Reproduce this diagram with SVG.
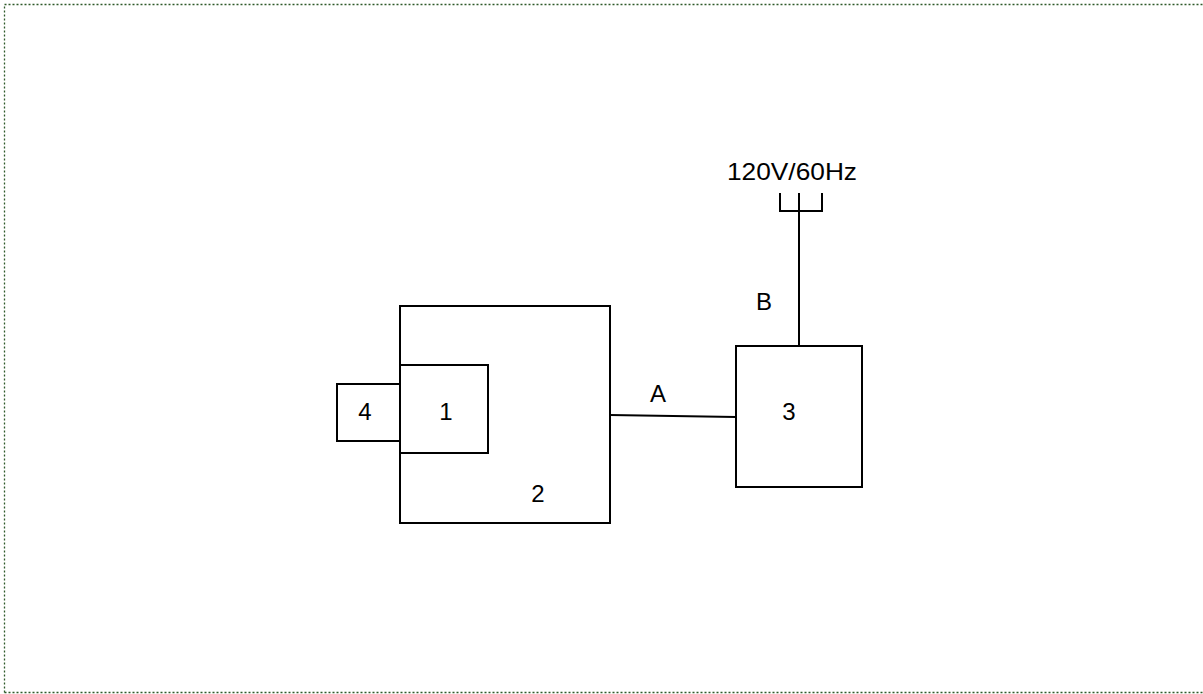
<svg xmlns="http://www.w3.org/2000/svg" width="1203" height="694" viewBox="0 0 1203 694">
<style>
.frame{fill:none;stroke:#2f5a2a;stroke-width:1.3;stroke-dasharray:2 2}
.box{fill:#fff;stroke:#000;stroke-width:2}
.ln{fill:none;stroke:#000;stroke-width:2}
.t{font-family:"Liberation Sans",Arial,sans-serif;font-size:24px;fill:#000}
</style>
<rect width="1203" height="694" fill="#fff"/>
<path class="frame" d="M4.5,692.5 V4.5 H1203 M4.5,692.5 H1203"/>
<g id="connectors">
<path class="ln" d="M610,415 L736,417"/>
<path class="ln" d="M799,193 V346"/>
<path class="ln" d="M780,193 V211 H822 V193"/>
</g>
<g id="node2"><rect class="box" x="400" y="306" width="210" height="217"/><text class="t" x="538" y="502" text-anchor="middle">2</text></g>
<g id="node1"><rect class="box" x="400" y="365" width="88" height="88"/><text class="t" x="446" y="420" text-anchor="middle">1</text></g>
<g id="node4"><rect class="box" x="337" y="384" width="63" height="57"/><text class="t" x="365" y="420" text-anchor="middle">4</text></g>
<g id="node3"><rect class="box" x="736" y="346" width="126" height="141"/><text class="t" x="789" y="420" text-anchor="middle">3</text></g>
<g id="labels">
<text class="t" x="658" y="402" text-anchor="middle">A</text>
<text class="t" x="764" y="310" text-anchor="middle">B</text>
<text class="t" x="727" y="180" textLength="130" lengthAdjust="spacingAndGlyphs">120V/60Hz</text>
</g>
</svg>
